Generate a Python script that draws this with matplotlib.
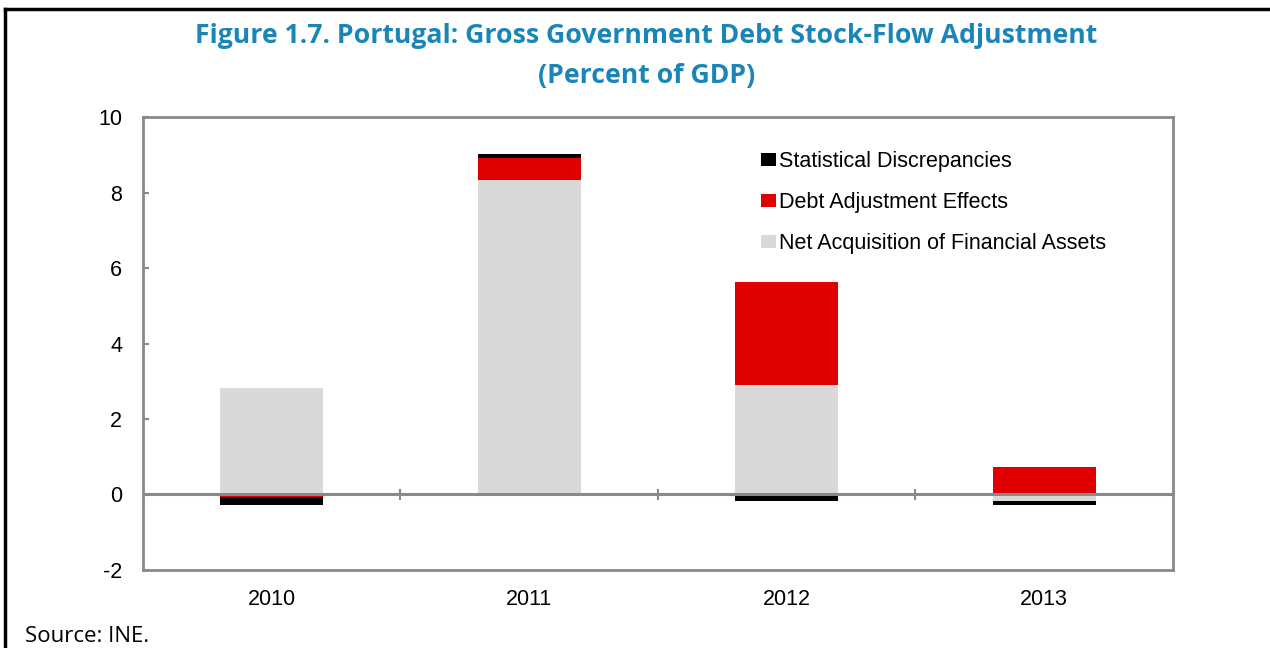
import numpy as np
import matplotlib.pyplot as plt
from matplotlib.lines import Line2D

years = ['2010', '2011', '2012', '2013']
net_acq = [2.83, 8.33, 2.89, -0.16]
debt_adj = [-0.06, 0.59, 2.75, 0.72]
stat_disc = [-0.21, 0.10, -0.17, -0.11]

series = [
    ('Net Acquisition of Financial Assets', net_acq, '#d9d9d9'),
    ('Debt Adjustment Effects', debt_adj, '#e00000'),
    ('Statistical Discrepancies', stat_disc, '#000000'),
]

fig = plt.figure(figsize=(12.7, 6.48), dpi=100)
ax = fig.add_axes([0.1126, 0.1204, 0.811, 0.699])

x = np.arange(len(years))
pos_base = np.zeros(len(years))
neg_base = np.zeros(len(years))
handles = []
for name, vals, col in series:
    vals = np.array(vals)
    bottom = np.where(vals >= 0, pos_base, neg_base)
    b = ax.bar(x, vals, width=0.4, bottom=bottom, color=col, label=name, zorder=2)
    pos_base += np.where(vals >= 0, vals, 0)
    neg_base += np.where(vals < 0, vals, 0)
    handles.append(b)

axis_gray = '#898989'
ax.axhline(0, color=axis_gray, lw=2.2, zorder=3)
# category separators on the zero line
ax.vlines([0.5, 1.5, 2.5], -0.15, 0.15, color=axis_gray, lw=1.5, zorder=3)

lab_font = {'family': 'Liberation Sans', 'size': 15.5}
ax.set_xlim(-0.5, 3.5)
ax.set_ylim(-2, 10)
ax.set_yticks(range(-2, 11, 2))
ax.set_yticklabels([str(v) for v in range(-2, 11, 2)], fontdict=lab_font)
ax.set_xticks(x)
ax.set_xticklabels(years, fontdict=lab_font)
ax.tick_params(axis='x', length=0, pad=14)
ax.tick_params(axis='y', direction='in', length=4, color=axis_gray, width=1.5, pad=15)
for sp in ax.spines.values():
    sp.set_color(axis_gray)
    sp.set_linewidth(2)

leg = ax.legend(handles[::-1], [s[0] for s in series][::-1], loc='upper left',
                bbox_to_anchor=(0.6, 0.925), frameon=False,
                prop=lab_font,
                handlelength=0.7, handleheight=0.55, handletextpad=0.15,
                labelspacing=0.93, borderaxespad=0, borderpad=0)

title_kw = dict(ha='center', va='center', fontsize=19.2, fontweight='bold',
                color='#1a86b8', family='Open Sans')
fig.text(0.509, 0.944, 'Figure 1.7. Portugal: Gross Government Debt Stock-Flow Adjustment', **title_kw)
fig.text(0.509, 0.882, '(Percent of GDP)', **title_kw)
fig.text(0.02, 0.017, 'Source: INE.', ha='left', va='center', fontsize=16, family='Open Sans')

# outer frame: top and left edges
fig.add_artist(Line2D([0.004, 1.0], [0.986, 0.986], color='black', lw=2.5, transform=fig.transFigure))
fig.add_artist(Line2D([0.004, 0.004], [0.0, 0.986], color='black', lw=2.5, transform=fig.transFigure))

fig.savefig('out.png', dpi=100)
